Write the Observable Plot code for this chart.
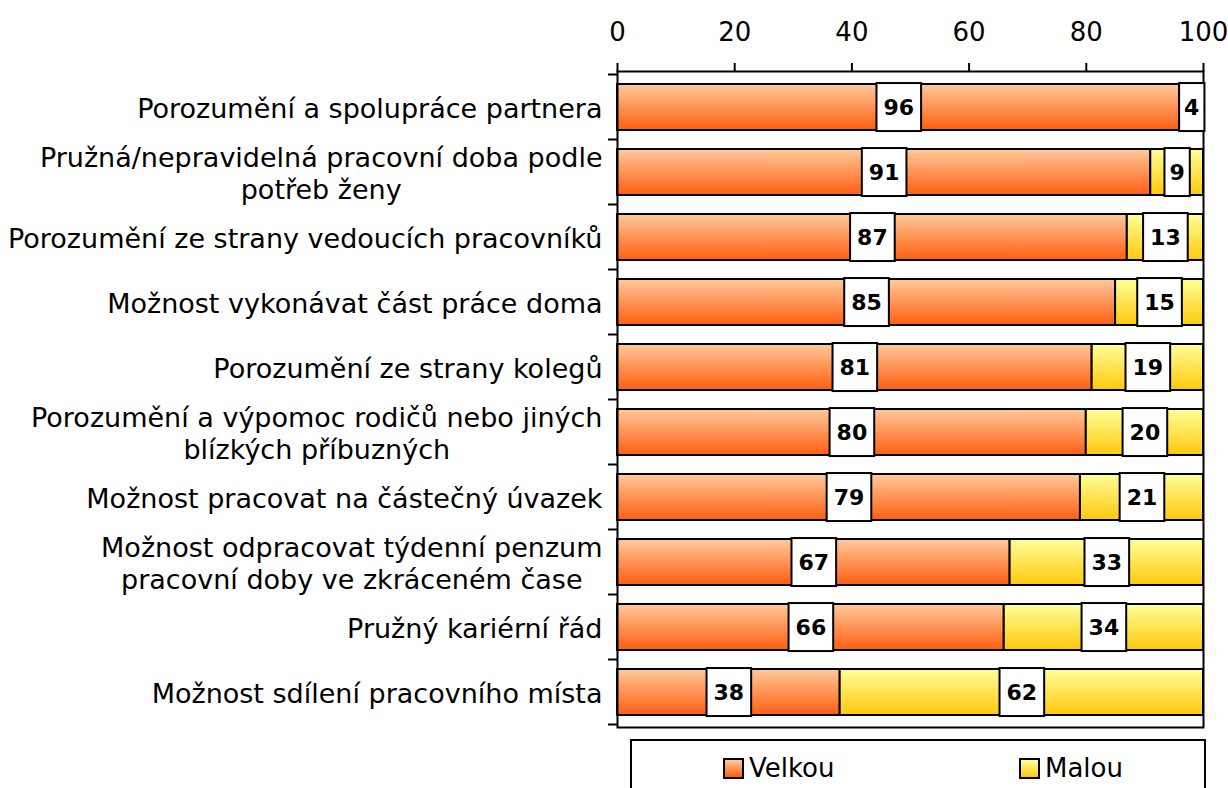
<!DOCTYPE html>
<html>
<head>
<meta charset="utf-8">
<script src="https://cdn.jsdelivr.net/npm/d3@7"></script>
<script src="https://cdn.jsdelivr.net/npm/@observablehq/plot@0.6"></script>
<style>
  html, body { margin: 0; padding: 0; background: #fff; }
  body { width: 1228px; height: 788px; overflow: hidden; font-family: "DejaVu Sans", sans-serif; }
  #legend {
    position: absolute; left: 630px; top: 739px; width: 576px; height: 70px;
    border: 2px solid #000; box-sizing: border-box; font-size: 26px; color: #000;
  }
  .item { position: absolute; top: 12px; display: flex; align-items: center; }
  .sw { width: 21px; height: 21px; border: 2px solid #000; box-sizing: border-box; margin-right: 5px; }
</style>
</head>
<body>
<div id="chart"></div>
<div id="legend"></div>
<script>
const categories = [
  "Porozumění a spolupráce partnera",
  "Pružná/nepravidelná pracovní doba podle\npotřeb ženy",
  "Porozumění ze strany vedoucích pracovníků",
  "Možnost vykonávat část práce doma",
  "Porozumění ze strany kolegů",
  "Porozumění a výpomoc rodičů nebo jiných\nblízkých příbuzných",
  "Možnost pracovat na částečný úvazek",
  "Možnost odpracovat týdenní penzum\npracovní doby ve zkráceném čase",
  "Pružný kariérní řád",
  "Možnost sdílení pracovního místa"
];
const velkou = [96, 91, 87, 85, 81, 80, 79, 67, 66, 38];
const malou  = [4, 9, 13, 15, 19, 20, 21, 33, 34, 62];
const seriesNames = ["Velkou", "Malou"];
const xTicks = [0, 20, 40, 60, 80, 100];

const rows = [];
categories.forEach((c, i) => {
  rows.push({cat: c, series: seriesNames[0], value: velkou[i]});
  rows.push({cat: c, series: seriesNames[1], value: malou[i]});
});

function getScale(scales, k) {
  const cands = [scales && scales[k], scales && scales.scales && scales.scales[k]];
  for (const c of cands) if (typeof c === "function") return {fn: c, obj: c};
  for (const c of cands) if (c && typeof c.apply === "function" && c.domain) return {fn: v => c.apply(v), obj: c};
  return null;
}
function val(o, k) { return typeof o[k] === "function" ? o[k]() : o[k]; }

let bandWidthPx = 46;
// boundary ticks on the left of the category axis
function bandBoundaryTicks(index, scales) {
  const Y = getScale(scales, "y"), X = getScale(scales, "x");
  const step = val(Y.obj, "step");
  const bw = val(Y.obj, "bandwidth");
  bandWidthPx = bw;
  const dom = typeof Y.obj.domain === "function" ? Y.obj.domain() : Y.obj.domain;
  const x0 = X.fn(0);
  const g = d3.create("svg:g").attr("stroke", "#000").attr("stroke-width", 2);
  const tops = dom.map(d => Y.fn(d) - (step - bw) / 2);
  tops.push(Y.fn(dom[dom.length - 1]) + bw + (step - bw) / 2);
  for (const t of tops) {
    g.append("line").attr("x1", x0 - 9).attr("x2", x0).attr("y1", t).attr("y2", t);
  }
  return g.node();
}

const chart = Plot.plot({
  width: 1228,
  height: 737,
  marginTop: 71,
  marginBottom: 10,
  marginLeft: 617,
  marginRight: 25,
  style: {fontFamily: "DejaVu Sans, sans-serif", fontSize: "24px", color: "#000", background: "#fff"},
  x: {domain: [0, 100], label: null},
  y: {domain: categories, paddingInner: 0.3, paddingOuter: 0.15, label: null},
  color: {domain: seriesNames, range: ["url(#gradVelkou)", "url(#gradMalou)"]},
  marks: [
    Plot.barX(rows, Plot.stackX({x: "value", y: "cat", fill: "series", stroke: "#000", strokeWidth: 2})),
    Plot.frame({stroke: "#000", strokeWidth: 2}),
    Plot.axisX({anchor: "top", ticks: xTicks, tickSize: 9, tickPadding: 22, fontSize: 26, strokeWidth: 2, label: null}),
    Plot.axisY({anchor: "left", tickSize: 0, tickPadding: 15, fontSize: 27, lineHeight: 1.19, label: null}),
    bandBoundaryTicks,
    Plot.text(rows, Plot.stackX({x: "value", y: "cat", text: d => String(d.value), z: "series",
      fontSize: 22, fontWeight: "bold", fill: "#000"}))
  ]
});

// gradients
const svgNode = chart.tagName.toLowerCase() === "svg" ? chart : chart.querySelector("svg");
const svg = d3.select(svgNode);
const defs = svg.insert("defs", ":first-child");
function grad(id, top, bottom) {
  const lg = defs.append("linearGradient").attr("id", id).attr("x1", 0).attr("y1", 0).attr("x2", 0).attr("y2", 1);
  lg.append("stop").attr("offset", "0%").attr("stop-color", top);
  lg.append("stop").attr("offset", "100%").attr("stop-color", bottom);
}
grad("gradVelkou", "#FFCA9C", "#FF5E10");
grad("gradMalou", "#FFFF9A", "#FFC90A");

document.getElementById("chart").append(chart);

// white boxes behind segment labels
const segTexts = Array.from(svgNode.querySelectorAll("text")).filter(t =>
  !t.closest('[aria-label^="y-axis"]') && !t.closest('[aria-label^="x-axis"]') && /^\d+$/.test(t.textContent) &&
  t.closest("g") && t.closest("g").getAttribute("font-weight") === "bold");
const bw = bandWidthPx;
segTexts.forEach(function (t) {
  const bb = t.getBBox();
  const cy = bb.y + bb.height / 2;
  const padX = t.textContent.length > 1 ? 7 : 5;
  const r = document.createElementNS("http://www.w3.org/2000/svg", "rect");
  r.setAttribute("x", bb.x - padX);
  r.setAttribute("width", bb.width + 2 * padX);
  r.setAttribute("y", cy - bw / 2 - 1);
  r.setAttribute("height", bw + 2);
  r.setAttribute("fill", "#fff");
  r.setAttribute("stroke", "#000");
  r.setAttribute("stroke-width", 2);
  const tr = t.getAttribute("transform");
  if (tr) r.setAttribute("transform", tr);
  t.parentNode.insertBefore(r, t);
});

// center the lines of multi-line category labels within their block
svg.selectAll('[aria-label="y-axis tick label"] text').each(function () {
  const tspans = this.querySelectorAll("tspan");
  if (tspans.length > 1) {
    const bb = this.getBBox();
    const cx = bb.x + bb.width / 2;
    this.setAttribute("text-anchor", "middle");
    tspans.forEach(t => t.setAttribute("x", cx));
  }
});

// legend
const legend = document.getElementById("legend");
const legendColors = {Velkou: "linear-gradient(#FFCA9C, #FF5E10)", Malou: "linear-gradient(#FFFF9A, #FFC90A)"};
const legendLeft = {Velkou: 91, Malou: 387};
seriesNames.forEach(s => {
  const it = document.createElement("div");
  it.className = "item";
  it.style.left = legendLeft[s] + "px";
  const sw = document.createElement("div");
  sw.className = "sw";
  sw.style.background = legendColors[s];
  const tx = document.createElement("span");
  tx.textContent = s;
  it.append(sw, tx);
  legend.append(it);
});
</script>
</body>
</html>
